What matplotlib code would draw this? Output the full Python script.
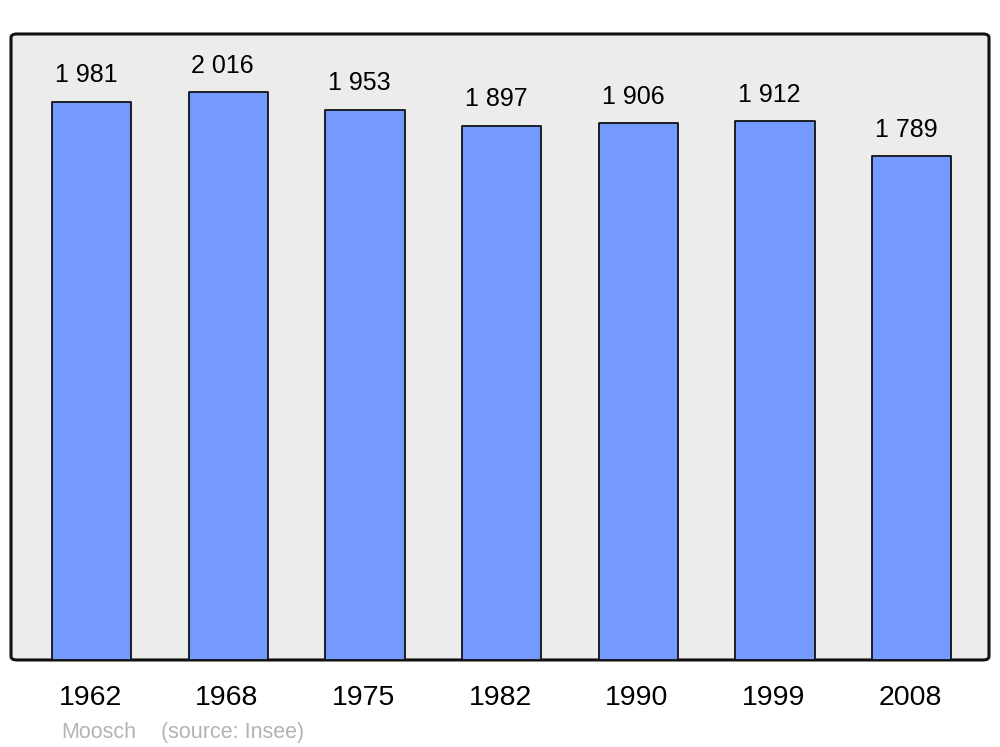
import matplotlib.pyplot as plt
from matplotlib.patches import FancyBboxPatch

# Données
annees = ['1962', '1968', '1975', '1982', '1990', '1999', '2008']
population = [1981, 2016, 1953, 1897, 1906, 1912, 1789]

plt.rcParams['font.family'] = ['Liberation Sans', 'DejaVu Sans']

fig = plt.figure(figsize=(10, 7.47), dpi=100)
ax = fig.add_axes([0.011, 0.1165, 0.978, 0.838])
ax.set_xlim(-0.59, 6.565)
ax.set_ylim(0, 2222)
ax.axis('off')

# fond arrondi
fond = FancyBboxPatch((0, 0), 1, 1, boxstyle='round,pad=0,rounding_size=0.006',
                      transform=ax.transAxes, facecolor='#ececec',
                      edgecolor='#111111', linewidth=2.2, zorder=0, clip_on=False)
ax.add_patch(fond)

x = range(len(annees))
bars = ax.bar(x, population, width=0.58, color='#7499ff', edgecolor='#111111',
              linewidth=1.3, zorder=2)
for b in bars:
    b.set_joinstyle('round')

for i, v in enumerate(population):
    txt = f'{v:,}'.replace(',', '\u00a0')
    ax.annotate(txt, (i, v), xytext=(-4, 14), textcoords='offset points',
                ha='center', va='baseline', fontsize=18, color='black')
    ax.annotate(annees[i], (i, 0), xytext=(-1, -32.5), textcoords='offset points',
                ha='center', va='baseline', fontsize=20.5, color='black')

fig.text(0.061, 0.012, 'Moosch', fontsize=15.5, color='#b3b3b3', ha='left', va='baseline')
fig.text(0.161, 0.012, '(source: Insee)', fontsize=15.5, color='#b3b3b3', ha='left', va='baseline')

fig.savefig('out.png', dpi=100)
